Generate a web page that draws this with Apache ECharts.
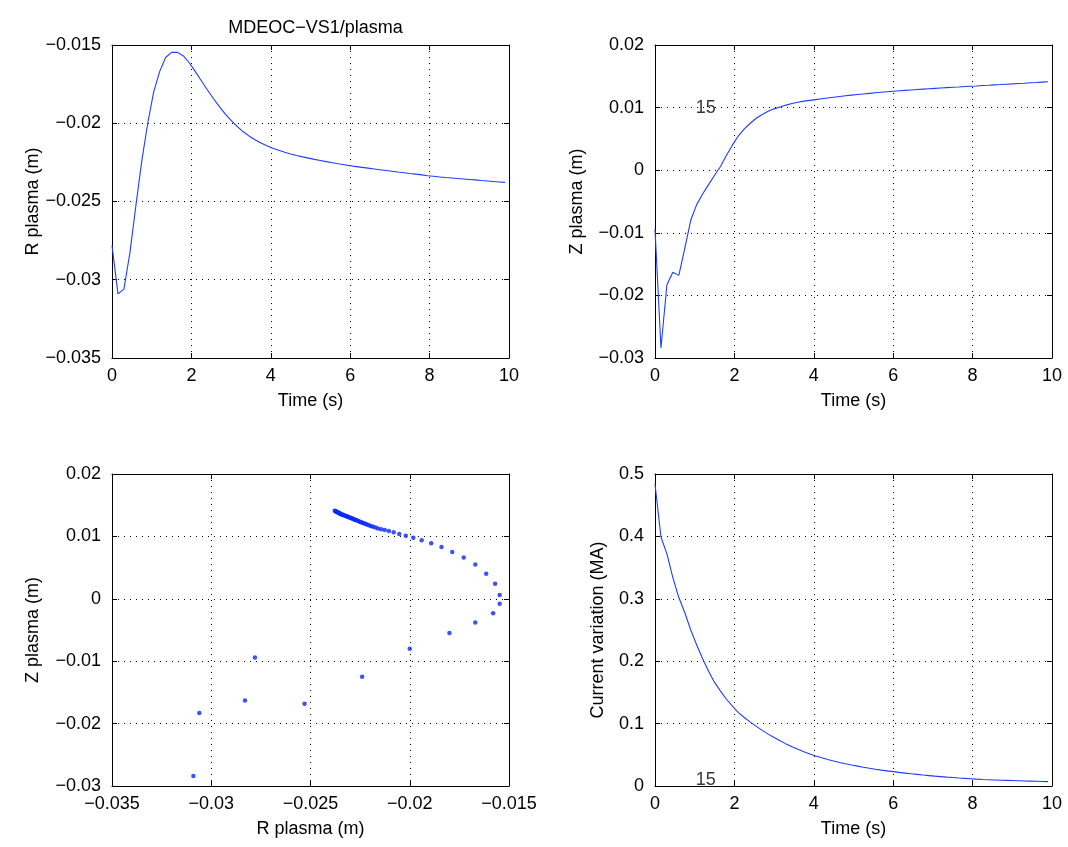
<!DOCTYPE html>
<html>
<head>
<meta charset="utf-8">
<script src="https://cdn.jsdelivr.net/npm/echarts@6/dist/echarts.min.js"></script>
<style>
html,body{margin:0;padding:0;background:#fff;}
#c{width:1068px;height:847px;}
</style>
</head>
<body>
<div id="c"></div>
<script>
// ---- data ----
const times = [0,0.15,0.3,0.45,0.6,0.75,0.9,1.05,1.2,1.35,
  1.5,1.65,1.8,1.95,2.1,2.25,2.4,2.55,2.7,2.85,
  3,3.15,3.3,3.45,3.6,3.75,3.9,4.05,4.2,4.35,
  4.5,4.65,4.8,4.95,5.1,5.25,5.4,5.55,5.7,5.85,
  6,6.15,6.3,6.45,6.6,6.75,6.9,7.05,7.2,7.35,
  7.5,7.65,7.8,7.95,8.1,8.25,8.4,8.55,8.7,8.85,
  9,9.15,9.3,9.45,9.6,9.75,9.9];

const rPlasma = [-0.0278,-0.0309,-0.0306,-0.0283,-0.0253,-0.0224,-0.0200,-0.0180,-0.0167,-0.0158,
  -0.01547,-0.01547,-0.0157,-0.01615,-0.0167,-0.01728,-0.01786,-0.0184,-0.01892,-0.0194,
  -0.01982,-0.0202,-0.02053,-0.02081,-0.02105,-0.02126,-0.02144,-0.0216,-0.02173,-0.02185,
  -0.02196,-0.02206,-0.02215,-0.02223,-0.02231,-0.02238,-0.02245,-0.02252,-0.02259,-0.02265,
  -0.02272,-0.02277,-0.02282,-0.02287,-0.02292,-0.02297,-0.02302,-0.02307,-0.02312,-0.02316,
  -0.02321,-0.02325,-0.02330,-0.02335,-0.02339,-0.02343,-0.02347,-0.02350,-0.02353,-0.02356,
  -0.02359,-0.02362,-0.02366,-0.02369,-0.02372,-0.02375,-0.02378];

const zPlasma = [-0.0094,-0.0284,-0.0183,-0.0163,-0.0168,-0.0125,-0.0080,-0.0055,-0.0038,-0.0023,
  -0.0008,0.0006,0.0024,0.0040,0.0055,0.0066,0.0075,0.0083,0.0089,0.0094,
  0.0098,0.0101,0.0104,0.01065,0.01086,0.01103,0.01115,0.01127,0.01141,0.01154,
  0.01166,0.01178,0.01189,0.01199,0.01209,0.01218,0.01227,0.01236,0.01245,0.01253,
  0.01261,0.01268,0.01275,0.01282,0.01289,0.01295,0.01301,0.01307,0.01313,0.01319,
  0.01325,0.01330,0.01336,0.01341,0.01346,0.01352,0.01357,0.01363,0.01368,0.01374,
  0.01379,0.01385,0.01390,0.01396,0.01401,0.01407,0.01412];

const currentVar = [0.484,0.399,0.372,0.334,0.302,0.278,0.250,0.226,0.204,0.184,
  0.166,0.152,0.139,0.128,0.1176,0.1097,0.1024,0.0955,0.0891,0.0831,
  0.0776,0.0724,0.0675,0.0630,0.0588,0.0548,0.0513,0.0481,0.0452,0.0425,
  0.0400,0.0377,0.0356,0.0336,0.0318,0.0300,0.0284,0.0269,0.0255,0.0242,
  0.0230,0.0218,0.0207,0.0196,0.0186,0.0176,0.0167,0.0158,0.0150,0.0142,
  0.0135,0.0128,0.0122,0.0116,0.0110,0.0105,0.0101,0.0097,0.0093,0.0090,
  0.0087,0.0084,0.0081,0.0078,0.0075,0.0072,0.0070];

const annotText = '15';
const annotPoint = [1, 0.01];

const titleText = 'MDEOC\u2212VS1/plasma';
const timeLabel = 'Time (s)';
const rLabel = 'R plasma (m)';
const zLabel = 'Z plasma (m)';
const curLabel = 'Current variation (MA)';

// ---- styling helpers ----
const FONT = "'Liberation Sans', Arial, Helvetica, sans-serif";
const FS = 18;
const BLUE = '#1f3cff';

function fmt(v) {
  const r = Math.round(v * 1e6) / 1e6;
  if (r === 0) return '0';
  return String(r).replace('-', '\u2212');
}

function mainX(grid, min, max, interval, name) {
  return {
    type: 'value', gridIndex: grid, min: min, max: max, interval: interval, position: 'bottom',
    axisLine: {show: true, onZero: false, lineStyle: {color: '#000', width: 1}},
    axisTick: {show: true, inside: true, length: 5, lineStyle: {color: '#000'}},
    axisLabel: {color: '#000', fontSize: FS, fontFamily: FONT, margin: 9, formatter: fmt},
    splitLine: {show: true, lineStyle: {color: '#000', width: 1, type: [1, 5]}},
    name: name, nameLocation: 'middle', nameGap: 34,
    nameTextStyle: {color: '#000', fontSize: FS, fontFamily: FONT}
  };
}
function boxX(grid, min, max, interval) {
  return {
    type: 'value', gridIndex: grid, min: min, max: max, interval: interval, position: 'top',
    axisLine: {show: true, onZero: false, lineStyle: {color: '#000', width: 1}},
    axisTick: {show: true, inside: true, length: 5, lineStyle: {color: '#000'}},
    axisLabel: {show: false}, splitLine: {show: false}
  };
}
function mainY(grid, min, max, interval, name, gap) {
  return {
    type: 'value', gridIndex: grid, min: min, max: max, interval: interval, position: 'left',
    axisLine: {show: true, onZero: false, lineStyle: {color: '#000', width: 1}},
    axisTick: {show: true, inside: true, length: 5, lineStyle: {color: '#000'}},
    axisLabel: {color: '#000', fontSize: FS, fontFamily: FONT, margin: 11, formatter: fmt},
    splitLine: {show: true, lineStyle: {color: '#000', width: 1, type: [1, 5]}},
    name: name, nameLocation: 'middle', nameGap: gap, nameRotate: 90,
    nameTextStyle: {color: '#000', fontSize: FS, fontFamily: FONT}
  };
}
function boxY(grid, min, max, interval) {
  return {
    type: 'value', gridIndex: grid, min: min, max: max, interval: interval, position: 'right',
    axisLine: {show: true, onZero: false, lineStyle: {color: '#000', width: 1}},
    axisTick: {show: true, inside: true, length: 5, lineStyle: {color: '#000'}},
    axisLabel: {show: false}, splitLine: {show: false}
  };
}

function pairs(xs, ys) { return xs.map((x, i) => [x, ys[i]]); }

const chart = echarts.init(document.getElementById('c'), null, {renderer: 'canvas'});

const option = {
  backgroundColor: '#fff',
  animation: false,
  title: {
    text: titleText, left: 310.5, top: 14, textAlign: 'center',
    textStyle: {color: '#000', fontSize: FS, fontWeight: 'normal', fontFamily: FONT}
  },
  grid: [
    {left: 112, top: 45, width: 397, height: 313},
    {left: 655, top: 45, width: 397, height: 313},
    {left: 112, top: 474, width: 397, height: 312},
    {left: 655, top: 474, width: 397, height: 312}
  ],
  xAxis: [
    mainX(0, 0, 10, 2, timeLabel),
    mainX(1, 0, 10, 2, timeLabel),
    mainX(2, -0.035, -0.015, 0.005, rLabel),
    mainX(3, 0, 10, 2, timeLabel),
    boxX(0, 0, 10, 2),
    boxX(1, 0, 10, 2),
    boxX(2, -0.035, -0.015, 0.005),
    boxX(3, 0, 10, 2)
  ],
  yAxis: [
    mainY(0, -0.035, -0.015, 0.005, rLabel, 60),
    mainY(1, -0.03, 0.02, 0.01, zLabel, 69),
    mainY(2, -0.03, 0.02, 0.01, zLabel, 70),
    mainY(3, 0, 0.5, 0.1, curLabel, 48),
    boxY(0, -0.035, -0.015, 0.005),
    boxY(1, -0.03, 0.02, 0.01),
    boxY(2, -0.03, 0.02, 0.01),
    boxY(3, 0, 0.5, 0.1)
  ],
  series: [
    {type: 'line', xAxisIndex: 0, yAxisIndex: 0, data: pairs(times, rPlasma), showSymbol: false,
     lineStyle: {color: BLUE, width: 1.1}, z: 3},
    {type: 'line', xAxisIndex: 1, yAxisIndex: 1, data: pairs(times, zPlasma), showSymbol: false,
     lineStyle: {color: BLUE, width: 1.1}, z: 3},
    {type: 'scatter', xAxisIndex: 2, yAxisIndex: 2, data: pairs(rPlasma, zPlasma), symbol: 'circle',
     symbolSize: 4.5, itemStyle: {color: '#0a28ff'}, z: 3},
    {type: 'line', xAxisIndex: 3, yAxisIndex: 3, data: pairs(times, currentVar), showSymbol: false,
     lineStyle: {color: BLUE, width: 1.1}, z: 3},
    {type: 'scatter', xAxisIndex: 1, yAxisIndex: 1, data: [annotPoint], symbolSize: 0, silent: true,
     label: {show: true, position: 'right', distance: 1, formatter: annotText, color: '#000',
             fontSize: FS, fontFamily: FONT}, z: 4},
    {type: 'scatter', xAxisIndex: 3, yAxisIndex: 3, data: [annotPoint], symbolSize: 0, silent: true,
     label: {show: true, position: 'right', distance: 1, formatter: annotText, color: '#000',
             fontSize: FS, fontFamily: FONT}, z: 4}
  ]
};
chart.setOption(option);
</script>
</body>
</html>
